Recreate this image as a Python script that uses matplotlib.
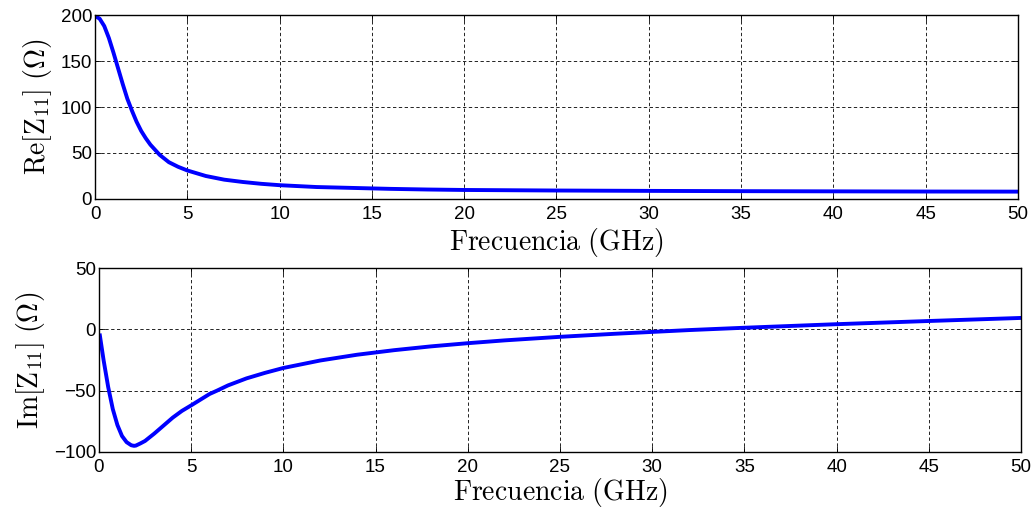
import matplotlib
matplotlib.use("Agg")
import matplotlib.pyplot as plt

# Re[Z11]
f_re = [0, 0.25, 0.5, 0.75, 1.0, 1.25, 1.5, 1.75, 2.0, 2.25, 2.5, 2.75, 3.0, 3.5,
        4.0, 4.5, 5, 6, 7, 8, 9, 10, 12, 14, 16, 18, 20, 25, 30, 35, 40, 45, 50]
re_z = [199, 196, 188, 175, 159, 142, 125, 109, 96, 84, 74, 66, 59, 48,
        40, 35, 31, 25, 21, 18.5, 16.5, 15, 13, 12, 11, 10.3, 9.8, 9.2, 8.8, 8.5, 8.3, 8.1, 8.0]

# Im[Z11]
f_im = [0.05, 0.25, 0.5, 0.75, 1.0, 1.25, 1.5, 1.75, 1.9, 2.0, 2.25, 2.5, 2.75, 3.0,
        3.5, 4.0, 4.5, 5, 6, 6.4, 7, 8, 9, 10, 12, 14, 16, 18, 20, 22, 25, 28, 30,
        32, 35, 40, 45, 50]
im_z = [-5, -25, -47, -65, -78, -87, -92, -94.5, -95, -94.8, -93, -91, -88, -85,
        -78.5, -72, -66.5, -62, -52.7, -50, -45.7, -40, -35.5, -31.5, -25.4, -20.7,
        -17, -13.9, -11.3, -9, -6.1, -3.6, -2.1, -0.6, 1.3, 4.2, 6.8, 9.3]

xticks = [0, 5, 10, 15, 20, 25, 30, 35, 40, 45, 50]

plt.rcParams['font.family'] = ['Liberation Sans', 'DejaVu Sans']
plt.rcParams['mathtext.fontset'] = 'cm'

fig = plt.figure(figsize=(10.34, 5.11), dpi=100)
ax1 = fig.add_axes([0.0919, 0.6106, 0.8926, 0.360])
ax2 = fig.add_axes([0.0957, 0.1155, 0.8917, 0.360])


def estilo(ax, ylim, yticks, ylabel, xpad):
    ax.set_xlim(0, 50)
    ax.set_ylim(*ylim)
    ax.set_xticks(xticks)
    ax.set_yticks(yticks)
    ax.tick_params(direction='in', length=4, width=0.6, top=True, right=True,
                   labelsize=13.5)
    ax.tick_params(axis='x', pad=5)
    ax.tick_params(axis='y', pad=2)
    ax.grid(True, color='black', linestyle=(0, (4, 3)), linewidth=0.6)
    for s in ax.spines.values():
        s.set_linewidth(1.0)
    ax.set_xlabel(r'$\mathrm{Frecuencia\ (GHz)}$', fontsize=20, labelpad=xpad)
    ax.set_ylabel(ylabel, fontsize=20, labelpad=5)


ax1.plot(f_re, re_z, color='#0000ff', linewidth=2.8)
estilo(ax1, (0, 200), [0, 50, 100, 150, 200], r'$\mathrm{Re[Z_{11}]\ (\Omega)}$', 2)

ax2.plot(f_im, im_z, color='#0000ff', linewidth=2.8)
estilo(ax2, (-100, 50), [-100, -50, 0, 50], r'$\mathrm{Im[Z_{11}]\ (\Omega)}$', 0)

fig.savefig("out.png", dpi=100)
